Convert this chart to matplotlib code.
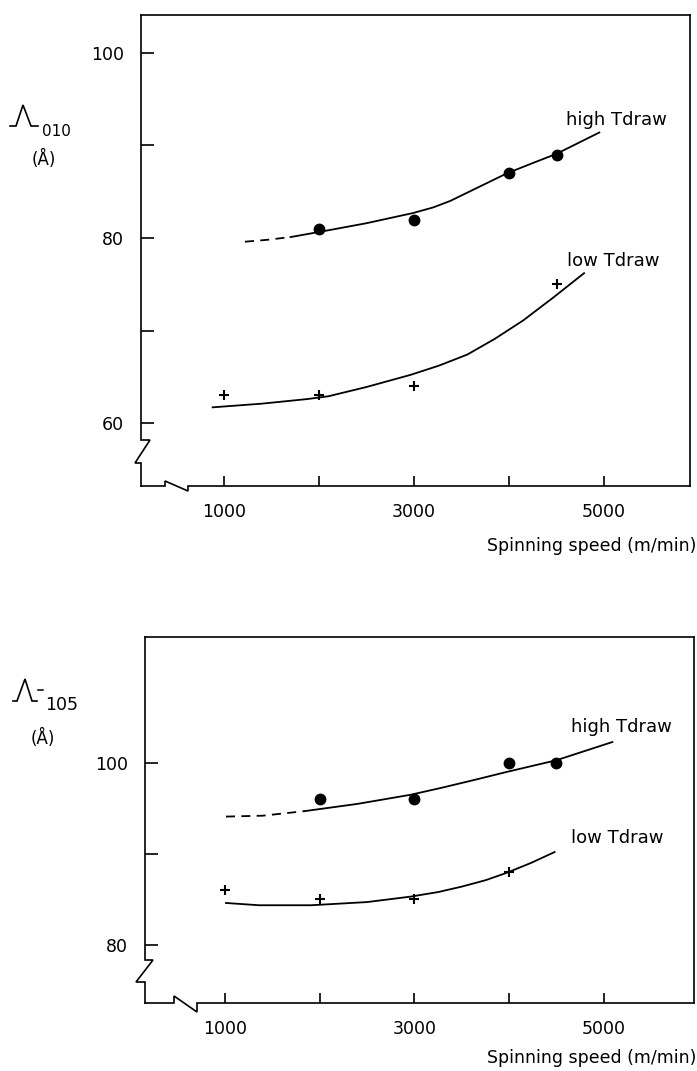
import matplotlib
matplotlib.use('Agg')
import matplotlib.pyplot as plt
from matplotlib.lines import Line2D

plt.rcParams['font.family'] = 'DejaVu Sans'

# measured points: lateral crystal size vs spinning speed
speed_010_high = [2000, 3000, 4000, 4500]
size_010_high = [81, 82, 87, 89]
speed_010_low = [1000, 2000, 3000, 4500]
size_010_low = [63, 63, 64, 75]

speed_105_high = [2000, 3000, 4000, 4500]
size_105_high = [96, 96, 100, 100]
speed_105_low = [1000, 2000, 3000, 4000]
size_105_low = [86, 85, 85, 88]

# hand-drawn trend curves (dashed = extrapolated part)
fit_010_high_dash_x = [1220, 1450, 1700]
fit_010_high_dash_y = [79.6, 79.8, 80.1]
fit_010_high_x = [1700, 2080, 2500, 2990, 3200, 3380, 3680, 3980, 4250, 4500, 4950]
fit_010_high_y = [80.1, 80.8, 81.6, 82.7, 83.3, 84.0, 85.5, 87.0, 88.1, 89.1, 91.4]
fit_010_low_x = [880, 1400, 1880, 2100, 2500, 2960, 3260, 3560, 3850, 4150, 4470, 4790]
fit_010_low_y = [61.7, 62.1, 62.6, 62.9, 63.9, 65.2, 66.2, 67.4, 69.1, 71.1, 73.6, 76.2]

fit_105_high_dash_x = [1010, 1400, 1840]
fit_105_high_dash_y = [94.1, 94.2, 94.7]
fit_105_high_x = [1840, 2400, 2960, 3300, 3660, 3970, 4500, 5090]
fit_105_high_y = [94.7, 95.5, 96.5, 97.3, 98.2, 99.0, 100.3, 102.3]
fit_105_low_x = [1010, 1360, 1910, 2500, 2960, 3250, 3500, 3750, 3970, 4230, 4480]
fit_105_low_y = [84.6, 84.35, 84.35, 84.7, 85.3, 85.8, 86.4, 87.1, 87.9, 89.0, 90.2]

x_ticks = [1000, 2000, 3000, 4000, 5000]
x_labels = ['1000', '', '3000', '', '5000']

W, H = 697, 1071
fig = plt.figure(figsize=(W / 100, H / 100), dpi=100)


def fx(x):
    return x / W


def fy(y):
    return 1 - y / H


def fig_line(pts, lw=1.2):
    fig.add_artist(Line2D([fx(p[0]) for p in pts], [fy(p[1]) for p in pts],
                          color='black', lw=lw, transform=fig.transFigure,
                          solid_joinstyle='miter'))


def make_axes(left, right, top, bottom, xlim, ylim, yticks, ylabels):
    ax = fig.add_axes([fx(left), fy(bottom), (right - left) / W, (bottom - top) / H])
    ax.set_xlim(*xlim)
    ax.set_ylim(*ylim)
    ax.spines['left'].set_visible(False)
    ax.spines['bottom'].set_visible(False)
    for s in ['top', 'right']:
        ax.spines[s].set_linewidth(1.2)
    ax.set_xticks(x_ticks)
    ax.set_xticklabels(x_labels)
    ax.set_yticks(yticks)
    ax.set_yticklabels(ylabels)
    ax.tick_params(direction='in', length=9, width=1.2, labelsize=12.5)
    ax.tick_params(axis='y', pad=12)
    ax.tick_params(axis='x', length=7, pad=12)
    return ax


def draw_series(ax, px, py, cx, cy, dx, dy, marker):
    if dx:
        ax.plot(dx, dy, color='black', lw=1.3, ls=(0, (5, 3.5)))
    ax.plot(cx, cy, color='black', lw=1.3, solid_joinstyle='round')
    if marker == 'o':
        ax.plot(px, py, ls='none', marker='o', ms=7.5, color='black')
    else:
        ax.plot(px, py, ls='none', marker='+', ms=7, mew=1.5, color='black')


# upper panel: (010)
ax1 = make_axes(141, 690, 15, 486, (126, 5905), (53.2, 104.1),
                [60, 70, 80, 90, 100], ['60', '', '80', '', '100'])
draw_series(ax1, speed_010_high, size_010_high, fit_010_high_x, fit_010_high_y,
            fit_010_high_dash_x, fit_010_high_dash_y, 'o')
draw_series(ax1, speed_010_low, size_010_low, fit_010_low_x, fit_010_low_y,
            None, None, '+')
fig_line([(141, 15), (141, 440), (150, 440), (135, 463), (141, 463), (141, 486)])
fig_line([(141, 486), (165, 486), (165, 481), (188, 491), (188, 486), (690, 486)])

fig.text(fx(566), fy(120), 'high Tdraw', fontsize=13, va='center')
fig.text(fx(567), fy(261), 'low Tdraw', fontsize=13, va='center')
fig.text(fx(696), fy(546), 'Spinning speed (m/min)', fontsize=12.5,
         ha='right', va='center')

# peak-profile symbol used as the size label
fig_line([(10, 126), (16, 126), (23, 105), (31, 126), (38, 126)], lw=1.2)
fig.text(fx(42), fy(132), '010', fontsize=11, va='center')
fig.text(fx(44), fy(159), '(Å)', fontsize=12, ha='center', va='center')

# lower panel: (-105)
ax2 = make_axes(145, 694, 637, 1003, (155, 5952), (73.6, 113.85),
                [80, 90, 100], ['80', '', '100'])
draw_series(ax2, speed_105_high, size_105_high, fit_105_high_x, fit_105_high_y,
            fit_105_high_dash_x, fit_105_high_dash_y, 'o')
draw_series(ax2, speed_105_low, size_105_low, fit_105_low_x, fit_105_low_y,
            None, None, '+')
fig_line([(145, 637), (145, 960), (153, 960), (136, 982), (145, 982), (145, 1003)])
fig_line([(145, 1003), (174, 1003), (174, 996), (197, 1012), (197, 1003), (694, 1003)])

fig.text(fx(571), fy(727), 'high Tdraw', fontsize=13, va='center')
fig.text(fx(571), fy(838), 'low Tdraw', fontsize=13, va='center')
fig.text(fx(696), fy(1058), 'Spinning speed (m/min)', fontsize=12.5,
         ha='right', va='center')

fig_line([(13, 701), (17, 701), (25, 679), (32, 701), (37, 701)], lw=1.2)
fig_line([(38, 690), (43, 690)], lw=1.1)
fig.text(fx(45), fy(705), '105', fontsize=12.5, va='center')
fig.text(fx(43), fy(738), '(Å)', fontsize=12, ha='center', va='center')

fig.savefig('out.png', dpi=100)
